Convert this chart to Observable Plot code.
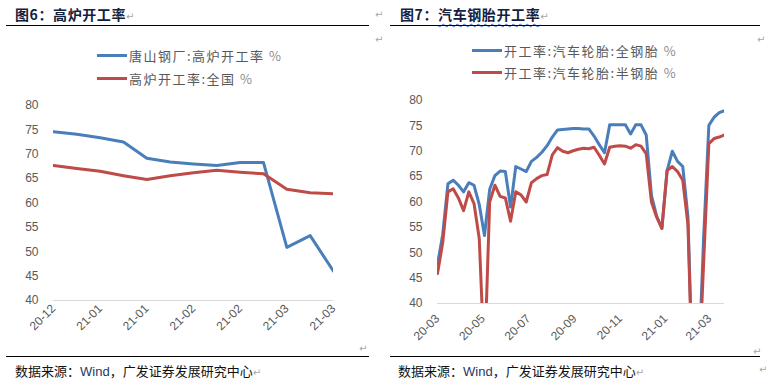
<!DOCTYPE html>
<html><head><meta charset="utf-8">
<script src="https://cdn.jsdelivr.net/npm/d3@7"></script>
<script src="https://cdn.jsdelivr.net/npm/@observablehq/plot@0.6"></script>
<style>
body{margin:0;background:#fff;width:766px;height:387px;overflow:hidden;position:relative;font-family:"Noto Sans CJK SC",sans-serif}
.abs{position:absolute;white-space:nowrap}
.chart{position:absolute;top:0}
.title{font-size:14px;line-height:14px;font-weight:bold;color:#13213f;letter-spacing:0.6px}
.rule{position:absolute;height:0;border-top:1.5px solid #000}
.leg{font-size:13px;line-height:13px;color:#595959;letter-spacing:1.5px}
.pct{color:#8c8c8c}
.swatch{position:absolute;width:30px;height:3px}
.mark{color:#a6a6a6;font-family:"DejaVu Sans",sans-serif;font-size:10px;line-height:10px}
.cap{font-size:13px;line-height:13px;color:#111}
.wind{color:#1f3864;font-family:"Liberation Sans",Arial,sans-serif}
.wavy{text-decoration:underline wavy #4472c4;text-decoration-thickness:1px;text-underline-offset:3px}
</style>
</head><body>
<div id="left" class="chart" style="left:0"></div>
<div id="right" class="chart" style="left:383px"></div>

<div class="abs title" style="left:15px;top:7px">图6：高炉开工率<span class="mark" style="font-weight:normal">↵</span></div>
<div class="abs title" style="left:400px;top:7px">图7：<span class="wavy">汽车钢胎开工率</span><span class="mark" style="font-weight:normal">↵</span></div>
<div class="rule" style="left:6px;top:25px;width:363px"></div>
<div class="rule" style="left:390px;top:25px;width:370px"></div>
<div class="abs mark" style="left:375px;top:10px">↵</div>
<div class="abs mark" style="left:375px;top:35px">↵</div>
<div class="abs mark" style="left:757px;top:35px">↵</div>

<div class="swatch" style="left:97px;top:53.5px;background:#4a7ebb"></div>
<div class="abs leg" style="left:129px;top:48.5px">唐山钢厂:高炉开工率 <span class="pct">%</span></div>
<div class="swatch" style="left:97px;top:76.5px;background:#be4b48"></div>
<div class="abs leg" style="left:129px;top:71.5px">高炉开工率:全国 <span class="pct">%</span></div>

<div class="swatch" style="left:472px;top:48.5px;background:#4a7ebb"></div>
<div class="abs leg" style="left:504px;top:43.5px">开工率:汽车轮胎:全钢胎 <span class="pct">%</span></div>
<div class="swatch" style="left:472px;top:70.5px;background:#be4b48"></div>
<div class="abs leg" style="left:504px;top:65.5px">开工率:汽车轮胎:半钢胎 <span class="pct">%</span></div>

<div class="abs mark" style="left:359px;top:344px">↵</div>
<div class="abs mark" style="left:753px;top:347px">↵</div>
<div class="rule" style="left:6px;top:356px;width:363px"></div>
<div class="rule" style="left:390px;top:356px;width:370px"></div>
<div class="abs cap" style="left:15px;top:363.5px">数据来源：<span class="wind">Wind</span>，广发证券发展研究中心<span class="mark">↵</span></div>
<div class="abs cap" style="left:398px;top:363.5px">数据来源：<span class="wind">Wind</span>，广发证券发展研究中心<span class="mark">↵</span></div>
<div class="abs mark" style="left:759px;top:365px">↵</div>

<script>
const parse = d3.utcParse("%Y-%m-%d");
const fmt = d3.utcFormat("%y-%m");
const BLUE = "#4a7ebb", RED = "#be4b48";

// Figure 6: blast furnace operating rate (%)
const leftDates = ["2020-12-25","2021-01-01","2021-01-08","2021-01-15","2021-01-22","2021-01-29","2021-02-05","2021-02-12","2021-02-19","2021-02-26","2021-03-05","2021-03-12","2021-03-19"];
const tangshan = [74.6, 74.1, 73.4, 72.5, 69.2, 68.4, 68.0, 67.7, 68.3, 68.3, 50.9, 53.3, 46.0];
const national = [67.7, 67.1, 66.5, 65.6, 64.8, 65.6, 66.2, 66.7, 66.3, 66.0, 62.8, 62.1, 61.9];
const leftTicks = ["2020-12-25","2021-01-08","2021-01-22","2021-02-05","2021-02-19","2021-03-05","2021-03-19"];

// Figure 7: auto tyre operating rate (%)
const rightDates = ["2020-03-05","2020-03-12","2020-03-19","2020-03-26","2020-04-02","2020-04-09","2020-04-16","2020-04-23","2020-04-30","2020-05-07",
  "2020-05-14","2020-05-21","2020-05-28","2020-06-04","2020-06-11","2020-06-18","2020-06-25","2020-07-02","2020-07-09","2020-07-16",
  "2020-07-23","2020-07-30","2020-08-06","2020-08-13","2020-08-20","2020-08-27","2020-09-03","2020-09-10","2020-09-17","2020-09-24",
  "2020-10-01","2020-10-08","2020-10-15","2020-10-22","2020-10-29","2020-11-05","2020-11-12","2020-11-19","2020-11-26","2020-12-03",
  "2020-12-10","2020-12-17","2020-12-24","2020-12-31","2021-01-07","2021-01-14","2021-01-21","2021-01-28","2021-02-04","2021-02-11",
  "2021-02-18","2021-02-25","2021-03-04","2021-03-11","2021-03-18","2021-03-25"];
const allSteel = [47.7, 53.6, 63.6, 64.3, 63.3, 62.0, 63.8, 63.3, 59.5, 53.4,
  62.5, 65.2, 66.1, 66.0, 59.0, 67.0, 66.5, 66.0, 68.0, 68.8,
  69.8, 71.1, 72.8, 74.2, 74.3, 74.4, 74.5, 74.5, 74.4, 74.4,
  73.0, 71.3, 69.7, 75.2, 75.2, 75.2, 75.2, 73.4, 75.2, 75.2,
  73.2, 61.3, 57.2, 54.8, 66.2, 70.0, 68.0, 67.0, 57.0, 22.0,
  26.0, 53.0, 75.1, 76.7, 77.6, 78.0];
const semiSteel = [45.9, 52.0, 62.0, 62.6, 60.8, 58.3, 62.0, 59.7, 52.8, 28.0,
  60.0, 63.3, 61.1, 60.8, 56.2, 62.0, 61.4, 60.0, 63.8, 64.6,
  65.2, 65.4, 69.3, 70.7, 70.0, 69.7, 70.1, 70.4, 70.6, 70.5,
  70.8, 69.2, 67.5, 70.8, 71.0, 71.1, 71.0, 70.6, 71.3, 71.0,
  69.5, 60.0, 57.0, 54.8, 66.2, 67.0, 66.0, 64.3, 55.5, 20.0,
  24.0, 48.0, 71.5, 72.5, 72.8, 73.2];
const rightTicks = ["2020-03-05","2020-05-05","2020-07-05","2020-09-05","2020-11-05","2021-01-05","2021-03-05"];

const yTicks = [40, 45, 50, 55, 60, 65, 70, 75, 80];

function chart(dates, s1, s2, ticks, m, pad) {
  const d1 = dates.map((d, i) => ({date: parse(d), v: s1[i]}));
  const d2 = dates.map((d, i) => ({date: parse(d), v: s2[i]}));
  return Plot.plot({
    width: 383, height: 387,
    marginLeft: m[0], marginRight: m[1], marginTop: m[2], marginBottom: m[3],
    style: {background: "transparent", fontFamily: "'Liberation Sans', Arial, sans-serif", fontSize: "12px", color: "#595959", overflow: "visible"},
    x: {type: "utc", domain: [parse(dates[0]), parse(dates[dates.length - 1])], ticks: ticks.map(parse), tickFormat: fmt,
        tickRotate: -45, tickSize: 0, tickPadding: pad, label: null},
    y: {domain: [40, 80], ticks: yTicks, tickSize: 0, tickPadding: 15, label: null},
    marks: [
      Plot.ruleY([40], {stroke: "#d9d9d9", strokeWidth: 1}),
      Plot.line(d1, {x: "date", y: "v", stroke: BLUE, strokeWidth: 3, strokeLinejoin: "round", strokeLinecap: "round", clip: true}),
      Plot.line(d2, {x: "date", y: "v", stroke: RED, strokeWidth: 3, strokeLinejoin: "round", strokeLinecap: "round", clip: true})
    ]
  });
}

document.getElementById("left").append(chart(leftDates, tangshan, national, leftTicks, [53, 50, 105, 87], 6));
document.getElementById("right").append(chart(rightDates, allSteel, semiSteel, rightTicks, [54, 42, 100, 84], 13));
</script>
</body></html>
